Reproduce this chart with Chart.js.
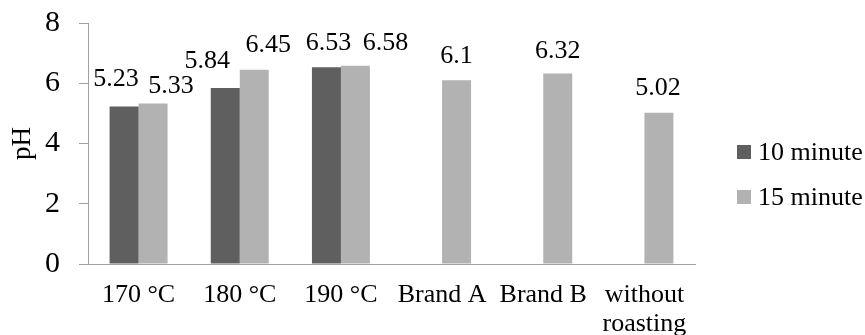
<!DOCTYPE html>
<html>
<head>
<meta charset="utf-8">
<script src="https://cdn.jsdelivr.net/npm/chart.js@4/dist/chart.umd.min.js"></script>
<style>
  html, body { margin: 0; padding: 0; background: #ffffff; }
  #wrap { width: 865px; height: 335px; position: relative; }
</style>
</head>
<body>
<div id="wrap"><canvas id="c" width="865" height="335"></canvas></div>
<script>
// Roasting conditions and reference samples
const categories = ['170 °C', '180 °C', '190 °C', 'Brand A', 'Brand B', ['without', 'roasting']];
const seriesNames = ['10 minute', '15 minute'];
const ph10min = [5.23, 5.84, 6.53, null, null, null];
const ph15min = [5.33, 6.45, 6.58, 6.1, 6.32, 5.02];
const yTicks = [0, 2, 4, 6, 8];
const yTitle = 'pH';

// Small nudges [dx, gap above bar] for value labels that would collide
const labelNudge10 = [[-8, 20], [-18, 20], [2, 17], [0, 17], [0, 17], [0, 17]];
const labelNudge15 = [[18, 10], [14, 18], [30, 16], [0, 17], [0, 16], [-1, 18]];

const SERIF = '"Liberation Serif", "Times New Roman", serif';
const AXIS = '#a0a0a0';
const COLORS = ['#5f5f5f', '#b2b2b2'];

// Value labels above each bar
const valueLabels = {
  id: 'valueLabels',
  afterDatasetsDraw(chart) {
    const ctx = chart.ctx;
    const nudges = [labelNudge10, labelNudge15];
    ctx.save();
    ctx.font = '26px ' + SERIF;
    ctx.fillStyle = '#000000';
    ctx.textAlign = 'center';
    ctx.textBaseline = 'alphabetic';
    chart.data.datasets.forEach((ds, di) => {
      const meta = chart.getDatasetMeta(di);
      meta.data.forEach((bar, i) => {
        const v = ds.data[i];
        if (v === null || v === undefined) return;
        const [dx, gap] = nudges[di][i];
        ctx.fillText(String(v), bar.x + dx, bar.y - gap);
      });
    });
    ctx.restore();
  }
};

// Legend at the right, square swatches
const sideLegend = {
  id: 'sideLegend',
  afterDraw(chart) {
    const ctx = chart.ctx;
    const x0 = chart.chartArea.right + 42;
    const rows = [152, 197];
    ctx.save();
    ctx.font = '26px ' + SERIF;
    ctx.textAlign = 'left';
    ctx.textBaseline = 'middle';
    chart.data.datasets.forEach((ds, di) => {
      const cy = rows[di];
      ctx.fillStyle = ds.backgroundColor;
      ctx.fillRect(x0, cy - 7, 14, 14);
      ctx.fillStyle = '#000000';
      ctx.fillText(ds.label, x0 + 21, cy + 1);
    });
    ctx.restore();
  }
};

new Chart(document.getElementById('c'), {
  type: 'bar',
  data: {
    labels: categories,
    datasets: [
      { label: seriesNames[0], data: ph10min, backgroundColor: COLORS[0] },
      { label: seriesNames[1], data: ph15min, backgroundColor: COLORS[1] }
    ]
  },
  options: {
    responsive: false,
    animation: false,
    devicePixelRatio: 1,
    layout: { padding: { left: 0, top: 23, right: 170, bottom: 0 } },
    datasets: {
      bar: { categoryPercentage: 0.573, barPercentage: 1.0, borderWidth: 0 }
    },
    plugins: {
      legend: { display: false },
      tooltip: { enabled: false }
    },
    scales: {
      x: {
        grid: { display: false, drawTicks: false },
        border: { display: true, color: AXIS, width: 1 },
        ticks: {
          color: '#000000',
          font: { family: SERIF, size: 26, lineHeight: 1.1 },
          padding: 17,
          maxRotation: 0,
          autoSkip: false
        },
        afterFit(scale) {
          scale.height = 71;
          scale.paddingLeft = 0;
          scale.paddingRight = 0;
        }
      },
      y: {
        min: 0,
        max: 8,
        afterBuildTicks(scale) { scale.ticks = yTicks.map(v => ({ value: v })); },
        grid: {
          display: true,
          drawOnChartArea: false,
          drawTicks: true,
          tickLength: 9,
          color: AXIS,
          lineWidth: 1
        },
        border: { display: true, color: AXIS, width: 1 },
        ticks: {
          color: '#000000',
          font: { family: SERIF, size: 30 },
          padding: 19
        },
        title: {
          display: true,
          text: yTitle,
          color: '#000000',
          font: { family: SERIF, size: 27 },
          padding: { top: 7, bottom: 0 }
        },
        afterFit(scale) {
          scale.width = 88;
          scale.paddingTop = 0;
          scale.paddingBottom = 0;
        }
      }
    }
  },
  plugins: [valueLabels, sideLegend]
});
</script>
</body>
</html>
